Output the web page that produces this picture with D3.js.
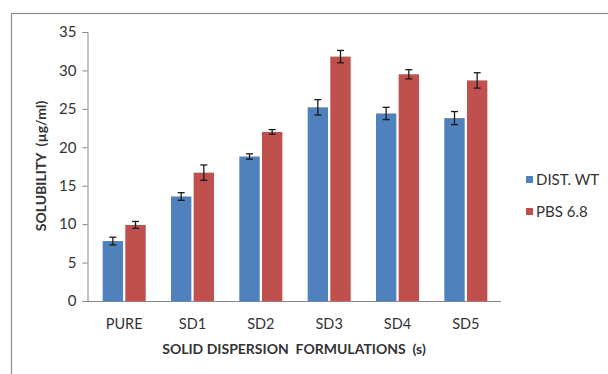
<!DOCTYPE html>
<html>
<head>
<meta charset="utf-8">
<script src="https://cdn.jsdelivr.net/npm/d3@7"></script>
<style>
  body { margin: 0; background: #fff; }
  svg text { font-family: Lato, "Liberation Sans", sans-serif; fill: #333; }
</style>
</head>
<body>
<svg id="chart" width="608" height="374"></svg>
<script>
const categories = ["PURE", "SD1", "SD2", "SD3", "SD4", "SD5"];
const seriesNames = ["DIST. WT", "PBS 6.8"];
const distWt = [7.8, 13.6, 18.8, 25.2, 24.4, 23.8];
const distWtErr = [0.5, 0.5, 0.35, 1.0, 0.8, 0.85];
const pbs = [9.9, 16.7, 22.0, 31.8, 29.5, 28.7];
const pbsErr = [0.45, 1.0, 0.3, 0.8, 0.6, 1.0];
const yTicks = [0, 5, 10, 15, 20, 25, 30, 35];
const colors = ["#4F81BD", "#C0504D"];

const svg = d3.select("#chart");

// outer frame (runs off the right and bottom edges like the source)
svg.append("rect")
  .attr("x", 11.5).attr("y", 13.5)
  .attr("width", 700).attr("height", 500)
  .attr("fill", "none").attr("stroke", "#8c8c8c").attr("stroke-width", 1.2);

const x = d3.scaleBand().domain(categories).range([90, 500])
  .paddingInner(0.37).paddingOuter(0.185);
const xs = d3.scaleBand().domain([0, 1]).range([0, x.bandwidth()]).paddingInner(0.1);
const y = d3.scaleLinear().domain([0, 35]).range([301, 32]);

// y axis
const yAxis = svg.append("g")
  .attr("transform", "translate(87.5,0)")
  .call(d3.axisLeft(y).tickValues(yTicks).tickSize(5).tickPadding(6));
yAxis.select(".domain").attr("stroke", "#868686");
yAxis.selectAll(".tick line").attr("stroke", "#868686");
yAxis.selectAll(".tick text").attr("font-size", 15).attr("fill", "#333")
  .style("font-family", "Lato, sans-serif");

// x axis line
svg.append("line")
  .attr("x1", 87).attr("x2", 501)
  .attr("y1", y(0) + 0.5).attr("y2", y(0) + 0.5)
  .attr("stroke", "#868686");

const rows = categories.map((c, i) => ({
  cat: c,
  vals: [
    {s: 0, v: distWt[i], e: distWtErr[i]},
    {s: 1, v: pbs[i], e: pbsErr[i]}
  ]
}));

const grp = svg.selectAll(".grp").data(rows).enter().append("g")
  .attr("class", "grp")
  .attr("transform", d => `translate(${x(d.cat)},0)`);

grp.selectAll("rect").data(d => d.vals).enter().append("rect")
  .attr("x", d => xs(d.s))
  .attr("width", xs.bandwidth())
  .attr("y", d => y(d.v))
  .attr("height", d => y(0) - y(d.v))
  .attr("fill", d => colors[d.s]);

// error bars
const eb = grp.selectAll(".err").data(d => d.vals).enter().append("g").attr("class", "err")
  .attr("stroke", "#1a1a1a").attr("stroke-width", 1.3);
eb.append("line")
  .attr("x1", d => xs(d.s) + xs.bandwidth() / 2).attr("x2", d => xs(d.s) + xs.bandwidth() / 2)
  .attr("y1", d => y(d.v + d.e)).attr("y2", d => y(d.v - d.e));
eb.append("line")
  .attr("x1", d => xs(d.s) + xs.bandwidth() / 2 - 3.5).attr("x2", d => xs(d.s) + xs.bandwidth() / 2 + 3.5)
  .attr("y1", d => y(d.v + d.e)).attr("y2", d => y(d.v + d.e));
eb.append("line")
  .attr("x1", d => xs(d.s) + xs.bandwidth() / 2 - 3.5).attr("x2", d => xs(d.s) + xs.bandwidth() / 2 + 3.5)
  .attr("y1", d => y(d.v - d.e)).attr("y2", d => y(d.v - d.e));

// category labels
svg.selectAll(".cat").data(categories).enter().append("text")
  .attr("class", "cat")
  .attr("x", d => x(d) + x.bandwidth() / 2)
  .attr("y", 329)
  .attr("text-anchor", "middle")
  .attr("font-size", 14.5)
  .text(d => d);

// axis titles
svg.append("text")
  .attr("x", 294).attr("y", 354)
  .attr("text-anchor", "middle")
  .attr("font-size", 14).attr("font-weight", "bold")
  .style("white-space", "pre")
  .text("SOLID DISPERSION  FORMULATIONS  (s)");

svg.append("text")
  .attr("transform", "translate(46,166) rotate(-90)")
  .attr("text-anchor", "middle")
  .attr("font-size", 14).attr("font-weight", "bold")
  .style("white-space", "pre")
  .text("SOLUBILITY  (µg/ml)");

// legend
const leg = svg.selectAll(".leg").data(seriesNames).enter().append("g")
  .attr("class", "leg")
  .attr("transform", (d, i) => `translate(526,${180 + i * 32})`);
leg.append("rect").attr("x", 0).attr("y", -4).attr("width", 7).attr("height", 7)
  .attr("fill", (d, i) => colors[i]);
leg.append("text").attr("x", 10).attr("y", 0).attr("dy", "0.35em")
  .attr("font-size", 15).text(d => d);
</script>
</body>
</html>
